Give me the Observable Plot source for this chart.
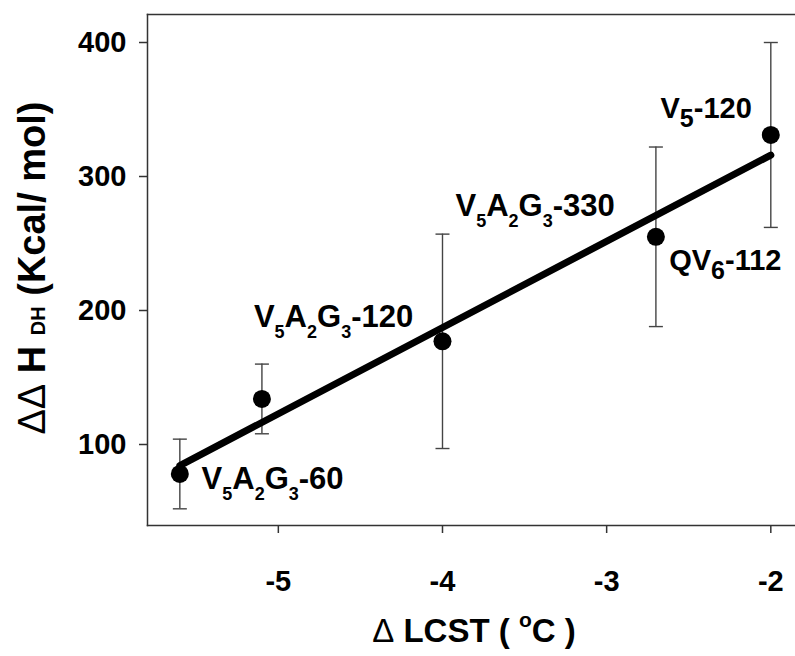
<!DOCTYPE html>
<html>
<head>
<meta charset="utf-8">
<script src="https://cdn.jsdelivr.net/npm/d3@7"></script>
<script src="https://cdn.jsdelivr.net/npm/@observablehq/plot@0.6"></script>
<style>
  body { margin: 0; background: #fff; }
  #chart svg { display: block; font-family: "Liberation Sans", Arial, Helvetica, sans-serif; }
</style>
</head>
<body>
<div id="chart"></div>
<script>
// ΔLCST (°C) against ΔΔH_DH (kcal/mol) for each polymer, with error bars
const deltaLCST   = [-5.6, -5.1, -4.0, -2.7, -2.0];
const deltaDeltaH = [78, 134, 177, 255, 331];
const errorDH     = [26, 26, 80, 67, 69];
// "_" marks a small subscript digit, "~" a large lowered digit
const sampleNames = ["V_5A_2G_3-60", "V_5A_2G_3-120", "V_5A_2G_3-330", "QV~6-112", "V~5-120"];
const xTicks = [-5, -4, -3, -2];
const yTicks = [100, 200, 300, 400];

const rows = deltaLCST.map((x, i) => ({
  x, y: deltaDeltaH[i],
  lo: deltaDeltaH[i] - errorDH[i],
  hi: deltaDeltaH[i] + errorDH[i],
  name: sampleNames[i]
}));

// where each name sits relative to its point
const labelPlacement = [
  {dx: 21.7, dy: 15,    anchor: "start", size: 31},
  {dx: -8,   dy: -71.7, anchor: "start", size: 31},
  {dx: 13,   dy: -125,  anchor: "start", size: 31},
  {dx: 13.3, dy: 33.3,  anchor: "start", size: 29},
  {dx: -19,  dy: -17,   anchor: "end",   size: 29}
];

// horizontal cap for the error bars
const capSymbol = {
  draw(ctx, size) {
    const r = Math.sqrt(size / Math.PI);
    ctx.moveTo(-r, 0);
    ctx.lineTo(r, 0);
  }
};

const labelMarks = rows.map((d, i) => Plot.text([d], {
  x: "x", y: "y", text: "name",
  dx: labelPlacement[i].dx, dy: labelPlacement[i].dy,
  textAnchor: labelPlacement[i].anchor,
  lineAnchor: "bottom",
  fontSize: labelPlacement[i].size,
  fontWeight: "bold",
  fill: "black"
}));

const chart = Plot.plot({
  width: 795,
  height: 656,
  marginLeft: 147,
  marginRight: 0,
  marginTop: 14,
  marginBottom: 131,
  x: {domain: [-5.797, -1.8496]},
  y: {domain: [39.55, 420.9]},
  marks: [
    Plot.frame({anchor: "left", stroke: "#333", strokeWidth: 1.5}),
    Plot.frame({anchor: "top", stroke: "#333", strokeWidth: 1.5}),
    Plot.frame({anchor: "bottom", stroke: "#333", strokeWidth: 1.5}),
    Plot.axisX({ticks: xTicks, tickFormat: d => String(d), tickSize: 8, tickPadding: 37,
      fontSize: 29, fontWeight: "bold", stroke: "#333", strokeWidth: 1.5, label: null}),
    Plot.axisY({ticks: yTicks, tickFormat: d => String(d), tickSize: 8, tickPadding: 13,
      fontSize: 29, fontWeight: "bold", stroke: "#333", strokeWidth: 1.5, label: null}),
    Plot.ruleX(rows, {x: "x", y1: "lo", y2: "hi", stroke: "#444", strokeWidth: 1.4}),
    Plot.dot(rows, {x: "x", y: "lo", symbol: capSymbol, r: 7, fill: "none", stroke: "#444", strokeWidth: 1.4}),
    Plot.dot(rows, {x: "x", y: "hi", symbol: capSymbol, r: 7, fill: "none", stroke: "#444", strokeWidth: 1.4}),
    Plot.linearRegressionY(rows, {x: "x", y: "y", ci: 0, stroke: "black", strokeWidth: 7}),
    Plot.dot(rows, {x: "x", y: "y", r: 9, fill: "black", stroke: "none"}),
    ...labelMarks
  ]
});

document.getElementById("chart").appendChild(chart);

// turn the name markup into subscripts
d3.select(chart).selectAll("text").each(function () {
  const str = this.textContent;
  if (!/[_~]/.test(str) || this.childElementCount) return;
  const el = d3.select(this);
  el.text(null);
  let offset = 0;
  let buf = "";
  const flush = () => {
    if (!buf) return;
    el.append("tspan").attr("dy", -offset).text(buf);
    offset = 0;
    buf = "";
  };
  for (let i = 0; i < str.length; i++) {
    const c = str[i];
    if ((c === "_" || c === "~") && i + 1 < str.length) {
      flush();
      const small = c === "_";
      const drop = small ? 11 : 9;
      el.append("tspan")
        .attr("dy", drop - offset)
        .attr("font-size", small ? 18 : 25)
        .text(str[i + 1]);
      offset = drop;
      i++;
    } else {
      buf += c;
    }
  }
  flush();
});

const svg = d3.select(chart);

// y-axis title: ΔΔ H_DH (Kcal/ mol)
const yTitle = svg.append("text")
  .attr("transform", "translate(45,268) rotate(-90)")
  .attr("text-anchor", "middle")
  .attr("font-size", 38)
  .attr("font-weight", "bold")
  .attr("fill", "black");
yTitle.append("tspan").attr("font-weight", "normal").text("ΔΔ");
yTitle.append("tspan").text(" H ");
yTitle.append("tspan").attr("font-size", 20).text("DH");
yTitle.append("tspan").text(" (Kcal/ mol)");

// x-axis title: Δ LCST ( °C )
const xTitle = svg.append("text")
  .attr("x", 474)
  .attr("y", 642)
  .attr("text-anchor", "middle")
  .attr("font-size", 33)
  .attr("font-weight", "bold")
  .attr("fill", "black");
xTitle.append("tspan").attr("font-weight", "normal").text("Δ");
xTitle.append("tspan").text(" LCST ( ");
xTitle.append("tspan").attr("font-size", 21).attr("dy", -15).text("o");
xTitle.append("tspan").attr("dy", 15).text("C )");
</script>
</body>
</html>
